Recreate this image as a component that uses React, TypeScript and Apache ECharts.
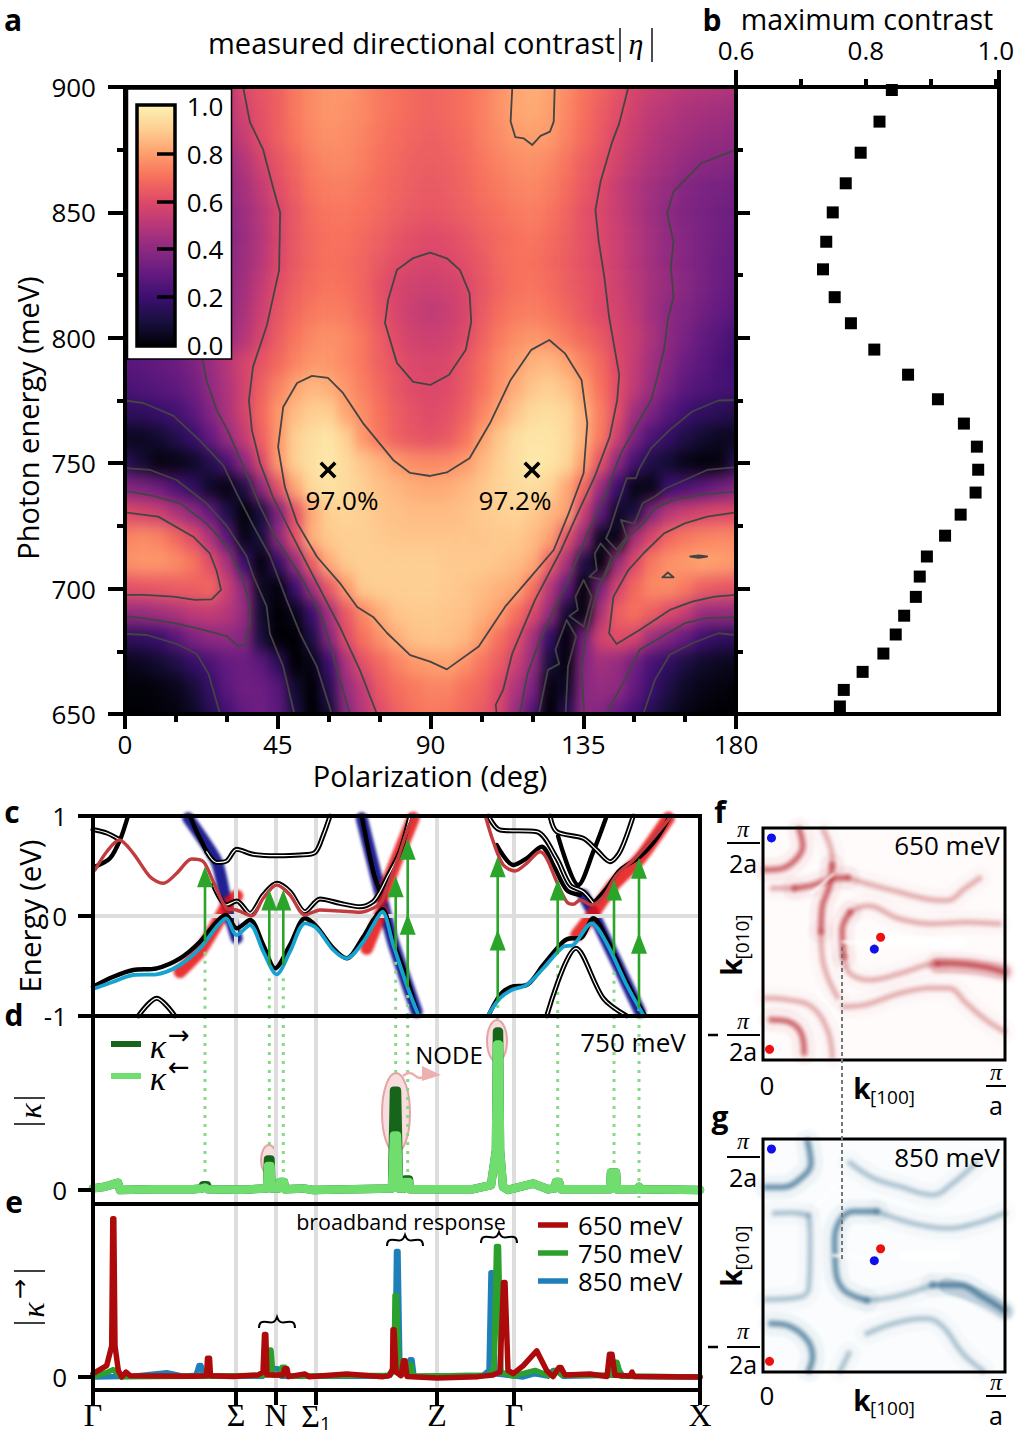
import React, { useEffect, useRef } from "react";
import * as echarts from "echarts";

const FONT = '"Open Sans"';
const magmaStops = ["#000004", "#180f3d", "#3b0f70", "#641a80", "#8c2981", "#b73779", "#de4968", "#f7705c", "#fe9f6d", "#fecf92", "#fcf3b4"];

// panel a: heat values (x100), rows 900 -> 650 meV, columns 0 -> 180 deg
const heatDeg = [0,5,10,15,20,25,30,35,40,45,50,55,60,65,70,75,80,85,90,95,100,105,110,115,120,125,130,135,140,145,150,155,160,165,170,175,180];
const heatMeV = [650,660,670,680,690,700,710,720,730,740,750,760,770,780,790,800,810,820,830,840,850,860,870,880,890,900];
const heatRows = [
[40,40,42,44,46,48,50,60,63,66,72,76,78,78,75,72,70,68,67,68,70,73,77,81,83,81,76,71,67,63,58,55,53,51,50,49,48],
[36,36,38,40,42,45,50,57,62,66,72,76,78,77,75,72,70,68,67,68,70,73,77,81,82,80,75,70,65,61,56,52,50,47,46,45,44],
[34,34,36,38,40,43,47,54,61,66,71,75,77,76,74,71,69,67,66,67,69,73,76,79,80,79,74,69,64,59,54,50,47,45,43,42,41],
[30,31,32,34,36,39,43,49,57,63,68,73,75,75,73,70,68,66,65,66,68,71,74,76,77,75,71,66,62,57,52,48,45,42,40,39,38],
[27,28,30,32,34,37,41,46,53,61,66,71,73,73,71,69,67,65,64,65,67,70,72,74,75,73,69,64,60,54,49,45,42,38,36,35,34],
[25,26,28,30,32,35,39,44,50,58,64,69,71,71,70,68,66,64,63,64,66,68,70,72,73,71,67,62,59,54,49,44,40,37,35,33,32],
[24,25,27,29,31,34,38,43,49,58,64,68,70,70,68,66,63,61,60,61,63,66,68,70,71,69,66,62,59,55,50,45,41,38,35,33,31],
[24,25,27,29,32,35,39,44,50,59,64,68,70,69,67,64,61,59,58,59,61,64,68,70,70,68,65,62,59,55,50,45,41,38,35,32,30],
[23,24,26,29,32,35,40,45,53,61,66,69,71,70,67,62,58,56,55,56,59,63,67,70,71,69,66,63,60,56,51,46,42,39,35,32,29],
[22,23,25,28,31,35,40,47,55,63,68,72,73,72,68,63,58,54,52,54,58,64,69,72,73,71,68,64,60,57,52,45,40,37,33,30,27],
[24,25,28,30,33,37,42,49,58,65,71,75,77,75,71,65,60,56,55,56,60,66,72,76,78,76,72,68,64,58,54,47,40,35,30,26,22],
[27,28,30,32,36,43,50,57,63,68,74,78,78,75,71,66,62,59,58,59,63,69,75,80,84,85,81,74,68,60,53,45,38,32,28,24,20],
[24,25,27,29,33,41,48,57,66,74,81,85,83,78,73,68,63,60,59,60,64,70,77,83,88,90,87,80,70,61,52,43,35,28,25,23,22],
[16,17,19,22,28,37,47,57,68,78,86,90,90,81,76,70,65,62,60,62,66,74,81,88,93,94,92,84,73,61,44,36,27,21,17,15,13],
[5,5,8,13,19,30,42,53,66,78,90,94,96,90,78,71,66,63,62,64,70,80,88,94,96,96,93,84,72,55,36,24,18,12,8,5,5],
[15,8,2,3,6,13,24,40,59,79,90,95,97,93,88,84,79,76,75,76,79,85,90,94,97,96,92,80,62,40,22,12,8,3,1,2,14],
[38,36,32,24,17,6,2,12,40,62,82,93,95,93,90,87,85,83,82,83,85,88,91,93,94,91,82,68,42,20,3,3,20,24,28,33,37],
[60,58,55,48,40,30,12,1,10,36,62,82,90,91,90,88,87,86,86,86,87,89,90,91,89,85,81,55,30,6,10,38,50,55,58,60,60],
[74,76,74,68,61,48,28,3,10,40,62,84,89,90,90,89,88,88,88,88,88,88,89,89,86,81,62,42,5,3,46,59,68,72,74,75,75],
[77,78,78,76,71,61,47,20,1,18,42,66,83,89,90,90,90,90,90,89,89,89,88,86,83,66,47,12,1,43,60,72,77,79,81,80,79],
[62,63,64,65,66,68,55,40,6,1,20,45,64,79,89,90,90,90,90,89,88,86,84,82,70,50,30,1,36,58,68,75,76,72,66,64,63],
[42,43,45,48,52,53,50,42,8,0,4,20,46,64,75,83,88,89,89,88,87,84,80,70,60,42,8,2,47,66,70,66,60,54,43,42,42],
[16,17,20,27,36,40,41,38,10,0,0,12,38,60,70,77,83,87,88,87,85,79,70,62,46,18,1,34,57,61,58,44,37,30,21,17,16],
[4,5,8,12,18,24,30,32,28,16,0,3,20,47,62,68,74,78,80,81,77,71,65,55,42,10,2,38,45,42,33,23,17,11,7,5,4],
[1,1,2,4,9,18,28,33,32,27,8,0,14,42,52,64,69,72,74,74,70,67,60,48,36,2,6,39,42,41,30,20,12,6,3,2,1],
[0,0,1,2,6,14,22,30,33,28,12,0,8,38,50,60,66,70,72,71,68,64,58,42,25,0,14,40,38,30,23,14,7,3,1,0,0],
];

// panel a: contour lines [deg, meV]
const contourLeft06 = [[34.8,900],[36.8,886],[40.7,875],[43.6,860],[45.7,850],[45.4,827],[41.8,805],[37.7,788.4],[36.5,775],[37.4,763],[39.8,750],[43.6,736.5],[49.5,720.6],[56.6,702],[63.3,684.7],[69.2,667.5],[74.2,650]];
const contourLeft04 = [[22.9,791],[24,783],[27,771.2],[30.4,762.6],[34.9,748.6],[39.8,732.7],[44.7,719.4],[50.6,707.4],[54.5,698.1],[58.4,687.5],[62.4,667.6],[66.3,650]];
const contourLeft02Up = [[0,775],[5.4,774],[14.2,769],[22.1,759],[29,749],[32.9,738],[37.8,725],[42.7,713],[47.6,695.5],[51.6,682],[56.5,669],[60.9,650]];
const contourLeft02Mid = [[0,748],[7.4,747.3],[15.2,743.3],[24,734],[30,725],[35.8,713],[37.8,705],[41.7,693],[42.7,682],[46.6,669],[49.9,650]];
const contourLeftLobe04 = [[0,739],[8.3,737],[16.2,734],[24,726],[30,717],[34.4,705],[36.8,693],[36.8,686],[35.6,681],[35.8,678],[33.4,677],[30,681],[23.1,683.5],[15.2,686],[6.4,688],[0,689]];
const contourLeftLobe06 = [[0,730.4],[9.8,728.7],[20.1,720.7],[25,714],[27,707],[28.3,699.5],[25.5,695.7],[20.6,695.5],[14.2,696.8],[5.4,697.5],[0,697.5]];
const contourLeftLow02 = [[0,682],[6.4,681.5],[15.2,678],[21.1,674],[24.6,666],[28,650]];
const contourHeart = [[55.1,784.8],[50.7,782],[46.6,772.4],[45.1,756.5],[47.1,740.5],[50.7,726.2],[56.6,712.6],[63.3,702.2],[68.4,692.7],[73.1,688.7],[77.2,682.3],[84,673.5],[89.9,670.9],[94.8,667.8],[104.2,676.9],[112,692.8],[119.6,704.8],[126.3,715.4],[130.7,730],[135.1,746],[136.2,765.9],[134.5,783.2],[129.6,793.8],[125,799.1],[119.7,795.2],[113.6,783.2],[107.5,765.9],[101.5,752],[94.8,746.3],[89.9,744.9],[84,746.1],[79,751.3],[70.1,766],[64.2,778],[59.8,784],[55.1,784.8]];
const contourCentre = [[80.1,827],[84.9,831.8],[89.9,834],[94.8,831.7],[98.7,827],[101.5,817.7],[102,806.4],[100.4,795.2],[95.4,785.2],[89.9,781.2],[84.9,782.4],[80.1,790],[76.6,805.9],[77.5,815.1],[80.1,827]];
const contourTopPatch = [[114.1,900],[113.6,886.2],[115,880],[117.5,879.5],[120,876.9],[122.4,880.5],[125.2,882.2],[126.3,886.2],[126.6,900]];
const contourRight06 = [[148.3,900],[145.6,885.5],[143.4,877.6],[140.1,862.3],[138.6,851],[139.5,839],[141.2,824.4],[142.6,808.4],[144.5,793.8],[145.6,785.2],[145,775.2],[142.8,760.6],[138.4,744.7],[132.9,728.7],[128.5,715.4],[120.8,695.5],[114.1,674.2],[111.4,659.6],[109.2,653.6],[109.5,650]];
const contourRight04 = [[180,875],[169.8,869.6],[161.6,858.3],[159.7,849.6],[161.6,838.3],[160.8,828.4],[161.6,816.4],[159.9,807.1],[158.8,795.2],[156.6,783.2],[155,775.2],[152.7,769.9],[146.1,754],[141.7,738],[136.2,722],[130.7,703.5],[126.3,691.5],[121.9,678.2],[118.6,666.2],[116.3,650]];
const contourRightZig = [[180,775.2],[174.8,775],[167.1,770.6],[160.5,763.3],[155,756],[151.6,748],[150.5,744],[147.8,744],[145,732.7],[142.8,723.4],[141.7,720],[144.8,715.4],[147.8,720.7],[146.1,727.4],[150,725.8],[152.5,734],[156.1,736.7],[159.4,740],[164.9,743.3],[171.5,747.3],[180,748.4]];
const contourIsland2 = [[140.1,718],[143.4,712.8],[140.6,703.5],[136.8,704.8],[139,707.4],[138.4,714],[140.1,718]];
const contourIsland3 = [[135.1,703.5],[137.5,696.8],[135.1,684.9],[130.9,689.1],[133.4,691.5],[132.7,696.8],[135.1,703.5]];
const contourChannel = [[121.9,650],[124.6,667.6],[127.9,670],[126.8,675.6],[130.1,687.5],[132.9,680.9],[130.5,668.9],[129.8,650]];
const contourRightLobe04 = [[180,738.7],[170.4,737.6],[161.6,735.4],[156.1,732],[152.7,726],[148.3,720.7],[143.9,711.4],[139.5,700.8],[137.3,690.2],[135.6,679.5],[134.5,667.6],[135.3,650]];
const contourRightLobe06 = [[180,730.4],[171.5,728.7],[164.9,726],[158.8,722],[152.7,714],[148.3,707.4],[143.9,696.8],[142.6,682.2],[144.8,677.9],[151.6,683.5],[160.5,691.5],[167.1,694.8],[173.7,696.8],[180,697.5]];
const contourRightLow04 = [[180,688.6],[171.5,688.2],[164.9,686.2],[158.3,680.9],[151.6,675.6],[147.2,663.6],[141.7,650]];
const contourRightLow02 = [[180,681.5],[174.8,682.2],[167.1,678.2],[160.5,673.6],[156.1,663.6],[152.7,650]];
const contourSpeck1 = [[166.5,712.8],[169,713.2],[171.5,712.8],[169,712.3],[166.5,712.8]];
const contourSpeck2 = [[158.3,704.5],[159.9,706.4],[161.6,704.5],[158.3,704.5]];
const contours = [contourLeft06,contourLeft04,contourLeft02Up,contourLeft02Mid,contourLeftLobe04,contourLeftLobe06,contourLeftLow02,contourHeart,contourCentre,contourTopPatch,contourRight06,contourRight04,contourRightZig,contourIsland2,contourIsland3,contourChannel,contourRightLobe04,contourRightLobe06,contourRightLow04,contourRightLow02,contourSpeck1,contourSpeck2];
const maxima = [[59.8,747.3],[119.9,747.3]];

// panel b
const maxContrast = [[.84,898.8],[.821,886.2],[.792,873.8],[.769,861.6],[.749,850],[.739,838.3],[.734,827.3],[.752,816.2],[.777,805.8],[.813,795.3],[.865,785.3],[.911,775.5],[.951,765.8],[.971,756.6],[.973,747.4],[.969,738.3],[.946,729.5],[.922,721.1],[.894,712.8],[.883,704.8],[.877,696.7],[.859,689.2],[.846,681.7],[.827,674.1],[.795,666.8],[.766,659.6],[.76,653]];

// panels c-e: path coordinate along Gamma ... X
const kTicks = [0,143,183,223,344,421,607];
const kNames = ["Γ","{s|Σ}","N","{s|Σ}{sub|1}","Z","Γ","X"];
const kGuides = [143,183,223,344,421];

const conduction1 = [[2,.46],[13.7,.643],[26.3,.76],[40.3,.627],[57,.393],[70.3,.327],[83.7,.427],[98.7,.57],[110.3,.543],[120.3,.343],[133.7,.077],[143.7,.06],[158.7,.003],[170.3,.177],[183.7,.31],[197,.21],[212,.01],[227,.06],[247,.05],[267,.037],[280,.077],[288.7,.143],[295,.31],[305,.577],[315,.877],[320,.993]];
const conduction2 = [[393,.977],[400.3,.743],[410.3,.51],[422,.45],[433.7,.527],[447,.643],[453.7,.577],[463.7,.343],[473.7,.143],[480.3,.117],[487,.16],[498.7,.11],[510.3,.193],[523.7,.41],[540.3,.56],[557,.743],[577,.983]];
const valence1 = [[0,-.73],[20.3,-.657],[40.3,-.59],[63.7,-.583],[87,-.49],[107,-.323],[123.7,-.107],[133,-.023],[143.7,-.19],[157,-.09],[170.3,-.357],[183.7,-.583],[197,-.357],[212,-.073],[223.7,-.123],[240.3,-.34],[253.7,-.423],[270.3,-.257],[280.3,-.09],[289.3,.043],[300.3,-.29],[313.7,-.69],[325.3,-.99]];
const valence2 = [[395.3,-.99],[407,-.823],[418.7,-.74],[433.7,-.69],[450.3,-.523],[470.3,-.307],[480.3,-.29],[498.7,-.073],[513.7,-.273],[533.7,-.69],[550.3,-.99]];

const solidA = [[2,.493],[17,.577],[27,.76],[35,1]];
const solidB = [[268.7,1],[280.3,.443],[287,.243]];
const solidC = [[0,-.707],[20.3,-.607],[40.3,-.54],[63.7,-.523],[87,-.423],[107,-.257],[123.7,-.057],[133,.01],[143.7,-.123],[157,-.04],[170.3,-.29],[182,-.523],[197,-.29],[212,-.023],[223.7,-.107],[240.3,-.323],[253.7,-.423],[270.3,-.207],[280.3,-.04],[289.3,.07],[300.3,-.257],[313.7,-.623],[325.3,-1]];
const solidD = [[395.3,-1],[407,-.79],[418.7,-.707],[433.7,-.69],[450.3,-.49],[470.3,-.257],[478.7,-.223],[487,-.223],[500.3,-.023],[515.3,-.257],[533.7,-.657],[552,-1]];
const solidE = [[465,.8],[485.3,.31],[500.3,.643],[513.7,1]];
const solidF = [[500.3,.127],[513.7,.277],[527,.46],[547,.593],[563.7,.777],[577,1]];
const solidG = [[97,1],[103.7,.843],[113.7,.643]];
const solidH = [[403.7,.71],[420.3,.51],[433.7,.577],[448.7,.693],[460.3,.51],[473.7,.26],[487,.21]];
const solids = [solidA,solidB,solidC,solidD,solidE,solidF,solidG,solidH];
const doubleA = [[0,.865],[13.7,.83],[25.3,.77]];
const doubleB = [[113.7,.643],[123.7,.535],[133.7,.55],[143.7,.667],[160.3,.617],[183.7,.603],[207,.61],[222,.635],[230.3,.81],[237,1]];
const doubleC = [[120.3,.31],[133.7,.11],[143.7,.15],[157,.027],[170.3,.21],[183.7,.327],[197,.243],[212,.043],[227,.17],[247,.127],[267,.093],[280,.143],[287,.243],[293.7,.377],[307,.643],[317,1]];
const doubleD = [[453.7,-1],[483,-.323],[510.3,-.823],[533.7,-1]];
const doubleE = [[395.3,1],[407,.86],[443.7,.843],[463.7,.577],[477,.31],[490.3,.243],[500.3,.127]];
const doubleF = [[457,1],[463.7,.843],[490.3,.777],[503.7,.66],[517,.543],[527,.643],[540.3,1]];
const doubleG = [[45.3,-1],[63.7,-.823],[82,-1]];
const doubles = [doubleA,doubleB,doubleC,doubleD,doubleE,doubleF,doubleG];

const glowBlue = [[[95.3,.977],[123.7,.543],[133.7,.11],[143.7,-.223]],[[268.7,.977],[287,.243],[300,-.257],[323.7,-.957]],[[490.3,.21],[500.3,.027],[547,-.957]]];
const glowRed = [[[87,-.557],[107,-.35],[123.7,-.08],[133.7,.1],[143.7,.2]],[[273.7,-.323],[288.7,.047]],[[288.7,.177],[305,.6],[320.3,.977]],[[483.7,-.19],[500.3,.027],[520.3,.31],[547,.577],[575.3,.977]]];

// transitions: k, from, to, head centres
const arrowK = [112,176.3,190.3,302.7,314.7,404.7,464.7,521,546];
const arrowFrom = [-.257,-.49,-.49,-.34,-.707,-.857,-.383,-.383,-.923];
const arrowTo = [.4,.16,.16,.29,.67,.49,.26,.26,.48];
const arrowHeads = [[112,.393],[176.3,.16],[190.3,.16],[302.7,.293],[314.7,.667],[314.7,-.083],[404.7,.493],[404.7,-.24],[464.7,.26],[521,.26],[546,.477],[546,-.273]];
const dotStartC = [-.357,-.623,-.623,-.457,-.79,-.89,-.49,-.557,-.92];
const dotEndD = [.075,.25,.08,.73,.105,1.06,.09,.14,-.05];

const kappaFwd = [[0,.01],[12,.02],[22,.04],[25,.045],[27,0],[60,.005],[100,.005],[109,.01],[110,.03],[114,.03],[115,.005],[150,.002],[174,.01],[175,.19],[177.5,.19],[178.5,.01],[186,.01],[187,.05],[191,.05],[192,.005],[210,.01],[220,0],[260,.005],[299,.01],[301,.62],[304,.62],[306,.01],[311,.01],[312,.065],[316,.065],[317,.005],[380,.005],[398,.03],[403,.25],[404,.99],[406,.99],[407,.25],[410,.02],[415,0],[440,.04],[455,.005],[462,.01],[463,.05],[466,.05],[468,.005],[517,.005],[518,.11],[523,.11],[524,.005],[544,.005],[546,.02],[548,.005],[607,0]];
const kappaBack = [[0,.01],[12,.02],[22,.04],[25,.045],[27,0],[60,.005],[100,.005],[109,.01],[112,.015],[115,.005],[150,.002],[174,.01],[175,.15],[177.5,.15],[178.5,.01],[186,.01],[187,.05],[191,.05],[192,.005],[210,.01],[220,0],[260,.005],[299,.01],[301,.34],[304,.34],[306,.01],[311,.01],[312,.05],[316,.05],[317,.005],[380,.005],[398,.03],[403,.25],[404,.91],[406,.91],[407,.25],[410,.02],[415,0],[440,.04],[455,.005],[462,.01],[463,.05],[466,.05],[468,.005],[517,.005],[518,.11],[523,.11],[524,.005],[544,.005],[546,.02],[548,.005],[607,0]];

const s850 = [[2,0],[40,.005],[73.7,.026],[90,.005],[103,.01],[106,.07],[108,.07],[111,.005],[170,.005],[180,.05],[185,.05],[188,.005],[295,.005],[302,.04],[303.5,.77],[305,.77],[307,.02],[316,.02],[317,.105],[319,.105],[321,.005],[390,.01],[396,.04],[398,.64],[399.5,.64],[402,.02],[430,0],[442,.02],[455,.005],[460,.04],[463,.04],[470,.005],[520,.01],[526,.04],[530,.005],[607,0]];
const s750 = [[2,.005],[15,.03],[20,.045],[28,.002],[100,.005],[170,.01],[175,.02],[176.5,.165],[178,.165],[180,.01],[187,.01],[189,.06],[192,.06],[195,.005],[295,.01],[301,.05],[302,.5],[303.5,.5],[306,.02],[315,.02],[316,.075],[318,.075],[320,.005],[395,.01],[401,.05],[403.5,.8],[405.5,.8],[408,.03],[420,.005],[442,.04],[455,.01],[463,.04],[470,.01],[518,.01],[521,.09],[524,.09],[528,.005],[545,.005],[607,0]];
const s650 = [[0,.02],[13.7,.07],[18.7,.19],[19.8,.97],[20.8,.97],[22,.19],[25.3,.04],[28.7,0],[33,.03],[37,.008],[100,.005],[113.5,.008],[114.5,.115],[116.5,.115],[117.5,.008],[140,.003],[165,.012],[170,.03],[171.5,.26],[172.8,.26],[174,.012],[190,.012],[191.5,.05],[194,.05],[195.5,.002],[212,.018],[216,.002],[253.7,.018],[290,.002],[297,.01],[299.5,.05],[300,.29],[301,.29],[303,.03],[308,.008],[310.5,.1],[312,.1],[314,.003],[344,-.006],[385,.002],[400,.012],[407,.03],[410.5,.58],[412,.58],[415,.04],[420.3,.02],[430.3,.07],[443.7,.16],[453.7,.04],[460,.002],[466,.058],[468,.058],[472,.012],[497,.018],[514,.003],[516.5,.14],[519,.14],[522,.01],[537,.006],[539,.03],[541,.003],[607,0]];

// panels f, g: bands in percent of the panel (x from 0 to pi/a, y from top to bottom)
const fStrong = [[[1,18],[7.5,17.5],[13.6,13.5],[16.4,7.8],[15,.7]],[[13,26],[21,24.5],[28,22],[35,21.4]],[[28.6,16],[27.3,25.6],[24.5,34],[24,44.7]],[[36,36.3],[32.7,44.2],[33.4,55.6]],[[72,58.4],[77,58.3],[91,59.8],[99.5,62]],[[3.4,82.6],[10,83.3],[15.7,88.3],[17,96.9]]];
const fMid = [[[4,26],[13,26]],[[35,21.4],[43,24],[54,27],[67.6,30.6],[75.7,31.3],[84,25.6],[89.4,21.7]],[[25,1],[28.6,12.8],[28.6,16]],[[24,44.7],[24.5,55.6],[26.6,64],[30.6,72.6]],[[97.5,41.3],[84,40.6],[70.5,41.3],[56.6,39.2],[43,33.5],[36,36.3]],[[33.4,55.6],[36,62.7],[44.3,65.5],[56.6,62.7],[67.6,59],[72,58.4]],[[33.4,77],[43,76],[56.6,71.2],[70,69],[77,69.1],[84,75.5],[92,82.6],[99.5,87.6]],[[1.4,73.4],[10,74],[20,77],[26.6,87],[28.6,98.3]]];
const fWide = [[72,59],[85,59.5],[99.5,62]];
const fStreaks = [[[20,28],[29,20]],[[22,70],[31,81]],[[33,49],[45,50]],[[48,48.5],[82,49]]];
const gStrong = [[[1.4,20.7],[8,20.7],[15.7,16.8],[19.8,10.3],[18.4,1]],[[47,31.1],[37.4,31.1],[32,34.7],[29.6,43.3],[30,56.2],[33.4,64.8],[43,69.2]],[[70,62.7],[81,62.7],[90.8,67.7],[99.6,73.5]],[[3.4,79.2],[11.6,80.6],[18.4,86.4],[20.5,93.5],[19,99.3]]];
const gMid = [[[36,10.3],[45.6,16.8],[56.6,20.4],[70,24],[78.4,19],[88,10.3]],[[4.8,31.9],[11.6,31.6],[18.4,32.6]],[[19,33.3],[19.5,43.3],[19,63.4],[15.7,67.7],[1.4,68.9]],[[99.6,31.9],[88,36.2],[77,38.3],[62,36.2],[47,31.1]],[[43,69.2],[53.9,67.8],[70,62.7]],[[43,83.5],[53.9,79.2],[67.5,77],[74.4,80.6],[82.5,92],[90.7,99.3]],[[35.5,92],[32,99.3]]];
const gWide = [[76,63],[90,68],[100,74]];
const gStreaks = [[[22,29],[31,19]],[[29,50],[48,51]],[[58,50],[80,50]]];
const dotsBlue = [[3.5,4.3],[46,52.2]];
const dotsRed = [[2.7,95.4],[48.6,47.1]];

const line = (xi: number, yi: number, data: any, color: string, width: number, extra: any = {}) => ({
  type: "line", xAxisIndex: xi, yAxisIndex: yi, data, symbol: "none", silent: true, z: 3,
  lineStyle: { color, width, cap: "round", join: "round", ...(extra.lineStyle || {}) },
  ...Object.fromEntries(Object.entries(extra).filter(([k]) => k !== "lineStyle")),
});

const txt = (text: string, x: number, y: number, size: number, o: any = {}) => ({
  type: "text", x, y, rotation: o.rot || 0, z: 70, silent: true,
  style: { text, fill: o.fill || "#000", textAlign: o.align || "center", textVerticalAlign: "middle",
    font: `${o.style || ""} ${o.weight || ""} ${size}px ${o.family || FONT}`.trim() },
});
const seg = (x1: number, y1: number, x2: number, y2: number, w = 2, color = "#000", z = 70, dash?: number[]) => ({
  type: "line", z, silent: true, shape: { x1, y1, x2, y2 }, style: { stroke: color, lineWidth: w, lineDash: dash },
});
const frame = (x: number, y: number, width: number, height: number, w = 4) => ({
  type: "rect", z: 60, silent: true, shape: { x, y, width, height }, style: { fill: "none", stroke: "#000", lineWidth: w },
});
const SERIF = '"Liberation Serif"';

export default function App() {
  const heatRef = useRef<HTMLDivElement>(null);
  const softRef = useRef<HTMLDivElement>(null);
  const mainRef = useRef<HTMLDivElement>(null);

  useEffect(() => {
    document.body.style.margin = "0";
    echarts.graphic.registerShape("brace", echarts.graphic.extendPath("M0,11 C0,5 3,4 8,5 C13,6 16,6 18,0 C20,6 23,6 28,5 C33,4 36,5 36,11", {}));
    const heat = echarts.init(heatRef.current!, null, { renderer: "svg" });
    const soft = echarts.init(softRef.current!, null, { renderer: "svg" });
    const main = echarts.init(mainRef.current!, null, { renderer: "svg" });

    // one repeated cell on every side keeps the blur from fading at the panel's edge
    const nR = heatMeV.length, nC = heatDeg.length;
    const cells: number[][] = [];
    for (let r = -1; r <= nR; r++) for (let c = -1; c <= nC; c++) {
      const rr = Math.min(nR - 1, Math.max(0, r)), cc = Math.min(nC - 1, Math.max(0, c));
      cells.push([c + 1, nR - r, heatRows[rr][cc] / 100]);
    }
    heat.setOption({
      animation: false,
      grid: { left: 0, right: 0, top: 0, bottom: 0 },
      xAxis: { type: "category", data: ["<", ...heatDeg.map(String), ">"], show: false },
      yAxis: { type: "category", data: ["<", ...heatMeV.map(String), ">"], show: false },
      visualMap: { show: false, min: 0, max: 1, dimension: 2, inRange: { color: magmaStops } },
      series: [{ type: "heatmap", data: cells, silent: true }],
    });

    const softGrid = (left: number, top: number, width: number, height: number, bg?: string) => ({ left, top, width, height, show: !!bg, backgroundColor: bg, borderWidth: 0 });
    const softSeries: any[] = [];
    glowBlue.forEach((d) => softSeries.push(line(0, 0, d, "rgba(20,20,140,.95)", 12, { smooth: 0.2 })));
    glowRed.forEach((d) => softSeries.push(line(0, 0, d, "rgba(230,15,15,.85)", 13, { smooth: 0.2 })));
    const bandSet = (idx: number, strong: any[], mid: any[], wide: any, streaks: any[], rgb: string) => {
      [...strong.map((d) => [d, 0.9]), ...mid.map((d) => [d, 0.42])].forEach(([d, s]: any) => {
        softSeries.push(line(idx, idx, d, `rgba(${rgb},${0.06 * s})`, 24, { smooth: 0.4 }));
        softSeries.push(line(idx, idx, d, `rgba(${rgb},${0.3 * s})`, 9, { smooth: 0.4 }));
        softSeries.push(line(idx, idx, d, `rgba(${rgb},${0.5 * s})`, 3.5, { smooth: 0.4 }));
      });
      softSeries.push(line(idx, idx, wide, `rgba(${rgb},.22)`, 16, { smooth: 0.4 }));
      streaks.forEach((d) => softSeries.push(line(idx, idx, d, "#fff", d === streaks[streaks.length - 1] ? 9 : 2.5)));
    };
    bandSet(1, fStrong, fMid, fWide, fStreaks, "178,24,30");
    bandSet(2, gStrong, gMid, gWide, gStreaks, "24,84,125");
    soft.setOption({
      animation: false,
      grid: [softGrid(93, 816, 607, 200), softGrid(763, 828, 242, 232, "#fffbfb"), softGrid(763, 1139, 242, 233, "#fafcfd")],
      xAxis: [
        { type: "value", gridIndex: 0, min: 0, max: 607, show: false },
        { type: "value", gridIndex: 1, min: 0, max: 100, show: false },
        { type: "value", gridIndex: 2, min: 0, max: 100, show: false },
      ],
      yAxis: [
        { type: "value", gridIndex: 0, min: -1, max: 1, show: false },
        { type: "value", gridIndex: 1, min: 0, max: 100, inverse: true, show: false },
        { type: "value", gridIndex: 2, min: 0, max: 100, inverse: true, show: false },
      ],
      series: softSeries,
    });

    const tickStyle = { color: "#000", width: 4 };
    const labelStyle = { color: "#000", fontFamily: FONT, fontSize: 26 };
    const noSplit = { splitLine: { show: false }, minorSplitLine: { show: false } };
    const hiddenX = (i: number, min: number, max: number) => ({ type: "value", gridIndex: i, min, max, show: false, ...noSplit });

    const series: any[] = [];
    contours.forEach((d) => series.push(line(0, 0, d, "#444", 1.8, { z: 2 })));
    series.push({ type: "scatter", xAxisIndex: 0, yAxisIndex: 0, data: maxima, silent: true, z: 4,
      symbol: "path://M3 0 L10 7 L17 0 L20 3 L13 10 L20 17 L17 20 L10 13 L3 20 L0 17 L7 10 L0 3Z", symbolSize: 17, itemStyle: { color: "#000", opacity: 1 } });
    series.push({ type: "scatter", xAxisIndex: 1, yAxisIndex: 1, data: maxContrast, silent: true, symbol: "rect", symbolSize: 12, itemStyle: { color: "#000", opacity: 1 }, clip: false });

    // guides
    kGuides.forEach((k) => {
      series.push(line(2, 2, [[k, -1], [k, 1]], "#ddd", 4, { z: 1, lineStyle: { cap: "butt" } }));
      series.push(line(3, 3, [[k, -.0875], [k, 1.0875]], "#ddd", 4, { z: 1, lineStyle: { cap: "butt" } }));
      series.push(line(4, 4, [[k, -.08], [k, 1.061]], "#ddd", 4, { z: 1, lineStyle: { cap: "butt" } }));
    });
    series.push(line(2, 2, [[0, 0], [607, 0]], "#ddd", 4, { z: 1, lineStyle: { cap: "butt" } }));

    // band structure
    solids.forEach((d) => series.push(line(2, 2, d, "#000", 4.4, { smooth: 0.3, z: 3 })));
    doubles.forEach((d) => {
      series.push(line(2, 2, d, "#000", 5, { smooth: 0.3, z: 3 }));
      series.push(line(2, 2, d, "#fff", 1.2, { smooth: 0.3, z: 3 }));
    });
    [conduction1, conduction2].forEach((d) => series.push(line(2, 2, d, "#c23b3f", 3.4, { smooth: 0.3, z: 4 })));
    [valence1, valence2].forEach((d) => series.push(line(2, 2, d, "#16a3d0", 3.8, { smooth: 0.3, z: 4 })));

    arrowK.forEach((k, i) => {
      series.push(line(2, 2, [[k, arrowFrom[i]], [k, arrowTo[i]]], "#2aa52a", 2.6, { z: 5, lineStyle: { cap: "butt" } }));
      series.push(line(2, 2, [[k, dotStartC[i]], [k, -1]], "#86d986", 3, { z: 2, lineStyle: { type: [3, 6], cap: "butt" } }));
      series.push(line(3, 3, [[k, 1.0875], [k, dotEndD[i]]], "#86d986", 3, { z: 2, lineStyle: { type: [3, 6], cap: "butt" } }));
    });
    series.push({ type: "scatter", xAxisIndex: 2, yAxisIndex: 2, data: arrowHeads, silent: true, z: 5, symbol: "triangle", symbolSize: [16, 21], itemStyle: { color: "#2aa52a", opacity: 1 } });

    // kappa
    series.push(line(3, 3, kappaFwd, "#17651a", 8.5, { z: 3 }));
    series.push(line(3, 3, kappaBack, "#6fde6f", 8.5, { z: 4 }));
    series.push(line(4, 4, s850, "#1f7fb8", 5.5, { z: 3 }));
    series.push(line(4, 4, s750, "#2ca02c", 5.5, { z: 4 }));
    series.push(line(4, 4, s650, "#ad0a0c", 5.5, { z: 5 }));

    // dots
    [5, 6].forEach((j) => {
      series.push({ type: "scatter", xAxisIndex: j, yAxisIndex: j, data: dotsBlue, symbol: "circle", symbolSize: 9, silent: true, itemStyle: { color: "#1010e8", opacity: 1 } });
      series.push({ type: "scatter", xAxisIndex: j, yAxisIndex: j, data: dotsRed, symbol: "circle", symbolSize: 9, silent: true, itemStyle: { color: "#ee1010", opacity: 1 } });
    });

    const fractions = (top: number, barY: number, twoY: number, loTop: number, loBar: number, loTwo: number, zeroY: number, kY: number, subY: number, piY: number, piBar: number, aY: number, kRotY: number, subRotY: number) => [
      txt("π", 743, top, 24, { family: SERIF, style: "italic" }), seg(727, barY, 760, barY, 2), txt("2a", 743, twoY, 25),
      txt("π", 743, loTop, 24, { family: SERIF, style: "italic" }), seg(727, loBar, 760, loBar, 2), txt("2a", 743, loTwo, 25),
      seg(708, loBar, 718, loBar, 2.5), txt("0", 767, zeroY, 26),
      txt("k", 862, kY, 28, { weight: "bold" }), txt("[100]", 870, subY, 19, { align: "left" }),
      txt("π", 996, piY, 24, { family: SERIF, style: "italic" }), seg(986, piBar, 1006, piBar, 2), txt("a", 996, aY, 25),
      txt("k", 731, kRotY, 28, { weight: "bold", rot: Math.PI / 2 }), txt("[010]", 742, subRotY, 19, { rot: Math.PI / 2 }),
    ];

    main.setOption({
      animation: false,
      grid: [
        { left: 125, top: 87, width: 611, height: 627 },
        { left: 736, top: 87, width: 263, height: 627 },
        { left: 93, top: 816, width: 607, height: 200 },
        { left: 93, top: 1016, width: 607, height: 188 },
        { left: 93, top: 1204, width: 607, height: 186 },
        { left: 763, top: 828, width: 242, height: 232 },
        { left: 763, top: 1139, width: 242, height: 233 },
      ],
      xAxis: [
        { type: "value", gridIndex: 0, min: 0, max: 180, interval: 45, position: "bottom", axisLine: { show: false },
          axisTick: { show: true, length: 15, lineStyle: tickStyle }, minorTick: { show: true, splitNumber: 3, length: 8, lineStyle: tickStyle },
          axisLabel: { ...labelStyle, margin: 17 }, ...noSplit },
        { type: "value", gridIndex: 1, min: 0.6, max: 1, interval: 0.1, position: "top", axisLine: { show: false },
          axisTick: { show: true, length: 8, lineStyle: tickStyle },
          axisLabel: { ...labelStyle, margin: 24, formatter: (v: number) => { const r = Math.round(v * 10) / 10; return r === 0.6 ? "0.6" : r === 0.8 ? "0.8" : r === 1 ? "1.0" : ""; } }, ...noSplit },
        hiddenX(2, 0, 607), hiddenX(3, 0, 607),
        { type: "value", gridIndex: 4, min: 0, max: 607, position: "bottom", axisLine: { show: false },
          axisTick: { show: false },
          axisLabel: { customValues: kTicks, margin: 9, color: "#000", fontFamily: SERIF, fontSize: 32,
            formatter: (v: number) => kNames[kTicks.indexOf(v)] || "",
            rich: { s: { fontFamily: SERIF, fontSize: 32, color: "#000" }, sub: { fontFamily: FONT, fontSize: 19, color: "#000", verticalAlign: "bottom", padding: [14, 0, 0, 0] } } }, ...noSplit },
        hiddenX(5, 0, 100), hiddenX(6, 0, 100),
      ],
      yAxis: [
        { type: "value", gridIndex: 0, min: 650, max: 900, interval: 50, position: "left", axisLine: { show: false },
          axisTick: { show: true, length: 17, lineStyle: tickStyle }, minorTick: { show: true, splitNumber: 2, length: 8, lineStyle: tickStyle },
          axisLabel: { ...labelStyle, margin: 29, padding: [0, 0, 4, 0] }, ...noSplit },
        { type: "value", gridIndex: 1, min: 650, max: 900, interval: 50, position: "left", axisLine: { show: false },
          axisTick: { show: true, inside: true, length: 14, lineStyle: tickStyle }, minorTick: { show: true, splitNumber: 2, length: 7, lineStyle: tickStyle },
          axisLabel: { show: false }, ...noSplit },
        { type: "value", gridIndex: 2, min: -1, max: 1, interval: 1, position: "left", axisLine: { show: false },
          axisTick: { show: true, length: 15, lineStyle: tickStyle }, axisLabel: { ...labelStyle, margin: 26, padding: [0, 0, 2, 0] }, ...noSplit },
        { type: "value", gridIndex: 3, min: -.0875, max: 1.0875, position: "left", axisLine: { show: false }, axisTick: { show: false },
          axisLabel: { ...labelStyle, margin: 26, padding: [0, 0, 2, 0], customValues: [0], formatter: () => "0" }, ...noSplit },
        { type: "value", gridIndex: 4, min: -.08, max: 1.061, position: "left", axisLine: { show: false }, axisTick: { show: false },
          axisLabel: { ...labelStyle, margin: 26, padding: [0, 0, 2, 0], customValues: [0], formatter: () => "0" }, ...noSplit },
        { type: "value", gridIndex: 5, min: 0, max: 100, inverse: true, show: false, ...noSplit },
        { type: "value", gridIndex: 6, min: 0, max: 100, inverse: true, show: false, ...noSplit },
      ],
      series,
      graphic: { elements: [
        // frames
        frame(125, 87, 611, 627), frame(736, 87, 263, 627), frame(93, 816, 607, 200), frame(93, 1016, 607, 188), frame(93, 1204, 607, 186),
        frame(763, 828, 242, 232, 3), frame(763, 1139, 242, 233, 3),
        seg(736, 70, 736, 87, 4), seg(999, 70, 999, 87, 4),
        // ticks of panels d, e
        seg(78, 1190, 93, 1190, 4), seg(78, 1377, 93, 1377, 4),
        ...kTicks.map((k) => seg(93 + k, 1390, 93 + k, 1405, 4)),
        // colour bar
        { type: "rect", z: 60, silent: true, shape: { x: 127.5, y: 89, width: 104, height: 270 }, style: { fill: "#fff", stroke: "#000", lineWidth: 1.5 } },
        { type: "rect", z: 61, silent: true, shape: { x: 137, y: 105, width: 38, height: 241 }, style: { stroke: "#000", lineWidth: 3.5,
          fill: new echarts.graphic.LinearGradient(0, 0, 0, 1, magmaStops.slice().reverse().map((c, i) => ({ offset: i / 10, color: c }))) } },
        seg(157, 154, 174, 154, 3.5, "#000", 62), seg(157, 202, 174, 202, 3.5, "#000", 62), seg(157, 249, 174, 249, 3.5, "#000", 62), seg(157, 297, 174, 297, 3.5, "#000", 62),
        txt("1.0", 205, 106, 26), txt("0.8", 205, 154, 26), txt("0.6", 205, 202, 26), txt("0.4", 205, 249, 26), txt("0.2", 205, 297, 26), txt("0.0", 205, 345, 26),
        // panel letters
        txt("a", 13, 19, 30, { weight: "bold" }), txt("b", 712, 19, 30, { weight: "bold" }), txt("c", 12, 811, 30, { weight: "bold" }),
        txt("d", 14, 1014, 30, { weight: "bold" }), txt("e", 14, 1201, 30, { weight: "bold" }), txt("f", 720, 811, 30, { weight: "bold" }), txt("g", 720, 1116, 30, { weight: "bold" }),
        // titles
        txt("measured directional contrast", 208, 42, 29, { align: "left" }),
        seg(620, 28, 620, 62, 1.4), seg(652, 28, 652, 62, 1.4), txt("η", 636, 43, 30, { family: SERIF, style: "italic" }),
        txt("maximum contrast", 867, 18, 28.6),
        txt("Photon energy (meV)", 27, 418, 29, { rot: Math.PI / 2 }),
        txt("Polarization (deg)", 430, 775, 29),
        txt("Energy (eV)", 29, 916, 29.5, { rot: Math.PI / 2 }),
        txt("97.0%", 342, 500, 26), txt("97.2%", 515, 500, 26),
        // |kappa|
        seg(14, 1098, 45, 1098, 1.5), seg(14, 1124, 45, 1124, 1.5), txt("κ", 30, 1111, 32, { family: SERIF, style: "italic", rot: Math.PI / 2 }),
        seg(14, 1271, 45, 1271, 1.5), seg(14, 1323, 45, 1323, 1.5), txt("κ", 33, 1310, 32, { family: SERIF, style: "italic", rot: Math.PI / 2 }),
        txt("→", 20, 1289, 24, { family: '"DejaVu Sans"', rot: Math.PI / 2 }),
        // legend d
        seg(111, 1044, 141, 1044, 6, "#17651a"), seg(111, 1076, 141, 1076, 6, "#6fde6f"),
        txt("κ", 158, 1046, 34, { family: SERIF, style: "italic" }), txt("κ", 158, 1078, 34, { family: SERIF, style: "italic" }),
        txt("→", 179, 1035, 26, { family: '"DejaVu Sans"' }), txt("←", 179, 1067, 26, { family: '"DejaVu Sans"' }),
        // annotations d
        { type: "ellipse", z: 1, silent: true, shape: { cx: 269, cy: 1160, rx: 8, ry: 15 }, style: { fill: "rgba(235,170,170,.4)", stroke: "rgba(225,150,150,.85)", lineWidth: 2 } },
        { type: "ellipse", z: 1, silent: true, shape: { cx: 396, cy: 1113, rx: 14, ry: 40 }, style: { fill: "rgba(235,170,170,.4)", stroke: "rgba(225,150,150,.85)", lineWidth: 2 } },
        { type: "ellipse", z: 1, silent: true, shape: { cx: 497, cy: 1041, rx: 10, ry: 21 }, style: { fill: "rgba(235,170,170,.4)", stroke: "rgba(225,150,150,.85)", lineWidth: 2 } },
        { type: "polyline", z: 6, silent: true, shape: { points: [[403, 1076], [410, 1073], [420, 1078], [426, 1074]], smooth: 0.5 }, style: { fill: "none", stroke: "#edb0b0", lineWidth: 2.5 } },
        { type: "polygon", z: 6, silent: true, shape: { points: [[422, 1066], [441, 1075], [422, 1081]] }, style: { fill: "#edb0b0" } },
        txt("NODE", 449, 1054, 24), txt("750 meV", 633, 1042, 26),
        // legend e
        seg(538, 1225, 568, 1225, 5.5, "#ad0a0c"), seg(538, 1253, 568, 1253, 5.5, "#2ca02c"), seg(538, 1281, 568, 1281, 5.5, "#1f7fb8"),
        txt("650 meV", 578, 1225, 25.7, { align: "left" }), txt("750 meV", 578, 1253, 25.7, { align: "left" }), txt("850 meV", 578, 1281, 25.7, { align: "left" }),
        txt("broadband response", 401, 1221, 21.5),
        { type: "brace", x: 259, y: 1317, silent: true, z: 70, style: { fill: "none", stroke: "#000", lineWidth: 2 } },
        { type: "brace", x: 387, y: 1235, silent: true, z: 70, style: { fill: "none", stroke: "#000", lineWidth: 2 } },
        { type: "brace", x: 481, y: 1232, silent: true, z: 70, style: { fill: "none", stroke: "#000", lineWidth: 2 } },
        // f, g
        seg(842, 947, 842, 1260, 2, "#777", 65, [4, 3]),
        txt("650 meV", 947, 845, 26), txt("850 meV", 947, 1157, 26),
        ...fractions(829, 843, 863, 1021, 1035, 1051, 1085, 1088, 1097, 1072, 1086, 1105, 967, 937),
        ...fractions(1141, 1157, 1177, 1331, 1347, 1364, 1395, 1400, 1408, 1382, 1396, 1415, 1278, 1248),
      ] },
    });

    return () => { heat.dispose(); soft.dispose(); main.dispose(); };
  }, []);

  return (
    <div style={{ position: "relative", width: 1017, height: 1442, overflow: "hidden", background: "#fff" }}>
      <svg width={0} height={0} style={{ position: "absolute" }}>
        <filter id="heatBlur" x="-3%" y="-3%" width="106%" height="106%" colorInterpolationFilters="sRGB">
          <feGaussianBlur stdDeviation="5.5 8" />
        </filter>
        <filter id="softBlur" x="-3%" y="-3%" width="106%" height="106%" colorInterpolationFilters="sRGB">
          <feGaussianBlur stdDeviation="1.8" />
        </filter>
      </svg>
      <div style={{ position: "absolute", left: 125, top: 87, width: 611, height: 627, overflow: "hidden" }}>
        <div style={{ position: "absolute", left: -25.5, top: -37.6, width: 662, height: 702, filter: "url(#heatBlur)" }}>
          <div ref={heatRef} style={{ width: 662, height: 702 }} />
        </div>
      </div>
      <div style={{ position: "absolute", left: 0, top: 0, width: 1017, height: 1442, filter: "url(#softBlur)" }}>
        <div ref={softRef} style={{ width: 1017, height: 1442 }} />
      </div>
      <div ref={mainRef} style={{ position: "absolute", left: 0, top: 0, width: 1017, height: 1442 }} />
    </div>
  );
}
